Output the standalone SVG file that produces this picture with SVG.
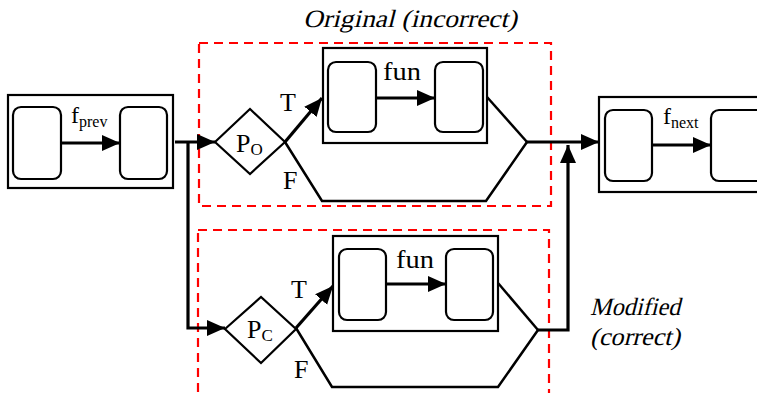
<svg xmlns="http://www.w3.org/2000/svg" width="757" height="393" viewBox="0 0 757 393" font-family="'Liberation Serif', 'Times New Roman', serif">
<defs>
<style>
.box{fill:#fff;stroke:#000;stroke-width:2.2}
.inner{fill:#fff;stroke:#000;stroke-width:2.2}
.dia{fill:#fff;stroke:#000;stroke-width:2.2}
.arr{fill:none;stroke:#000;stroke-width:3.2}
.ln{fill:none;stroke:#000;stroke-width:2.5}
.grp{fill:none;stroke:#ff0000;stroke-width:2.2;stroke-dasharray:9 6}
.lbl{font-size:26px}
.ital{font-size:25px}
</style>
<marker id="ah" markerUnits="userSpaceOnUse" markerWidth="20" markerHeight="18" refX="18" refY="8" orient="auto" viewBox="0 0 20 18">
<path d="M0,0 L18,8 L0,16 z" fill="#000"/>
</marker>
</defs>
<rect width="757" height="393" fill="#fff"/>

<text class="ital" font-family="Liberation Serif, serif" transform="translate(303,27) skewX(-14)" x="0" y="0" textLength="214" lengthAdjust="spacingAndGlyphs">Original (incorrect)</text>
<text class="ital" font-family="Liberation Serif, serif" transform="translate(590,315) skewX(-14)" x="0" y="0" textLength="90" lengthAdjust="spacingAndGlyphs">Modified</text>
<text class="ital" font-family="Liberation Serif, serif" transform="translate(590,345) skewX(-14)" x="0" y="0" textLength="90" lengthAdjust="spacingAndGlyphs">(correct)</text>

<g id="group-original"><rect class="grp" x="199" y="43" width="352" height="163"/></g>
<g id="group-modified"><rect class="grp" x="198" y="230" width="351" height="180"/></g>

<g id="connectors">
<line class="arr" x1="175" y1="142" x2="215" y2="142" marker-end="url(#ah)"/>
<polyline class="arr" points="188,142 188,328 225,328" marker-end="url(#ah)"/>
<line class="arr" x1="285" y1="142" x2="322" y2="98" marker-end="url(#ah)"/>
<polyline class="ln" points="285,142 322,201 486,201 527,142"/>
<line class="ln" x1="487" y1="97" x2="527" y2="142"/>
<line class="arr" x1="527" y1="142" x2="599" y2="142" marker-end="url(#ah)"/>
<line class="arr" x1="296" y1="328" x2="333" y2="286" marker-end="url(#ah)"/>
<polyline class="ln" points="296,328 332,387 498,387 538,330"/>
<line class="ln" x1="498" y1="283" x2="538" y2="330"/>
<polyline class="arr" points="538,330 568,330 568,145" marker-end="url(#ah)"/>
</g>

<g id="node-prev">
<rect class="box" x="8" y="95" width="165" height="93"/>
<rect class="inner" x="13" y="107" width="48" height="72" rx="8"/>
<rect class="inner" x="120" y="107" width="47" height="72" rx="8"/>
<line class="arr" x1="61" y1="143" x2="120" y2="143" marker-end="url(#ah)"/>
<text font-family="Liberation Serif, serif" x="71" y="123" font-size="24">f<tspan font-size="16" dy="4">prev</tspan></text>
</g>

<g id="node-po">
<polygon class="dia" points="215,142 250,109 285,142 250,174"/>
<text class="lbl" font-family="Liberation Serif, serif" x="236" y="152">P<tspan font-size="17" dy="3">O</tspan></text>
<text class="lbl" font-family="Liberation Serif, serif" x="280" y="111">T</text>
<text class="lbl" font-family="Liberation Serif, serif" x="283" y="189">F</text>
</g>

<g id="node-fun-original">
<rect class="box" x="323" y="48" width="164" height="95"/>
<rect class="inner" x="328" y="62" width="48" height="70" rx="8"/>
<rect class="inner" x="435" y="62" width="48" height="70" rx="8"/>
<line class="arr" x1="376" y1="98" x2="435" y2="98" marker-end="url(#ah)"/>
<text class="lbl" font-family="Liberation Serif, serif" x="383" y="80" textLength="38" lengthAdjust="spacingAndGlyphs">fun</text>
</g>

<g id="node-pc">
<polygon class="dia" points="225,329 261,297 296,329 261,363"/>
<text class="lbl" font-family="Liberation Serif, serif" x="247" y="338">P<tspan font-size="17" dy="3">C</tspan></text>
<text class="lbl" font-family="Liberation Serif, serif" x="291" y="298">T</text>
<text class="lbl" font-family="Liberation Serif, serif" x="294" y="378">F</text>
</g>

<g id="node-fun-modified">
<rect class="box" x="333" y="236" width="165" height="95"/>
<rect class="inner" x="339" y="249" width="47" height="71" rx="8"/>
<rect class="inner" x="446" y="249" width="47" height="71" rx="8"/>
<line class="arr" x1="386" y1="284" x2="446" y2="284" marker-end="url(#ah)"/>
<text class="lbl" font-family="Liberation Serif, serif" x="396" y="268" textLength="38" lengthAdjust="spacingAndGlyphs">fun</text>
</g>

<g id="node-next">
<rect class="box" x="599" y="97" width="170" height="95"/>
<rect class="inner" x="605" y="110" width="47" height="71" rx="8"/>
<rect class="inner" x="711" y="110" width="60" height="71" rx="8"/>
<line class="arr" x1="652" y1="145" x2="711" y2="145" marker-end="url(#ah)"/>
<text font-family="Liberation Serif, serif" x="663" y="124" font-size="24">f<tspan font-size="16" dy="4">next</tspan></text>
</g>
</svg>
